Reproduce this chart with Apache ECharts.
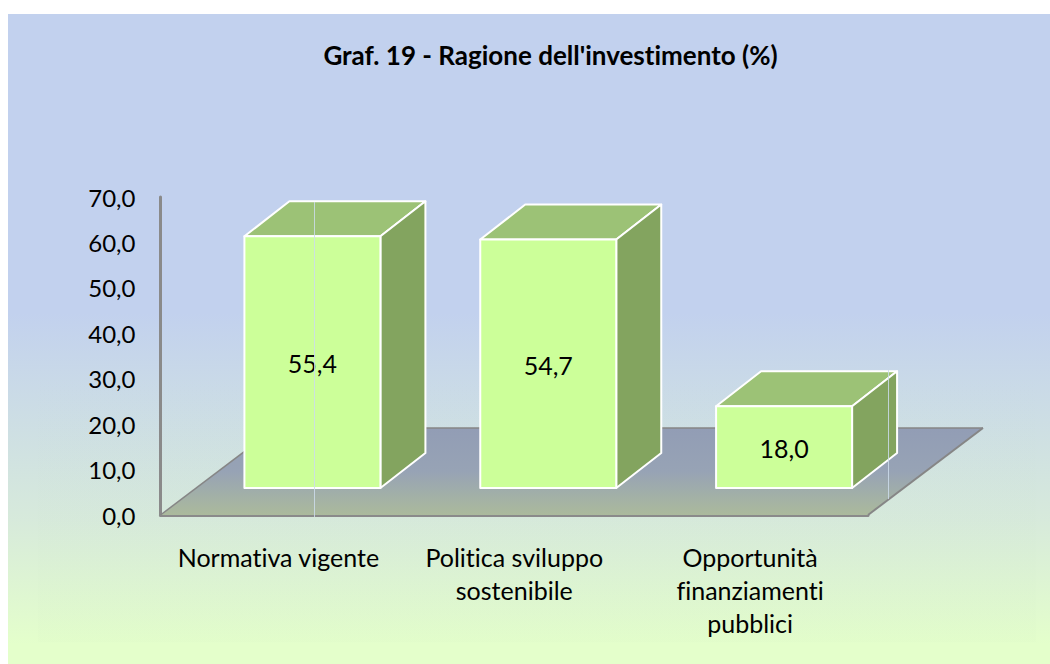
<!DOCTYPE html>
<html><head><meta charset="utf-8">
<style>html,body{margin:0;padding:0;background:#fff}#c{width:1050px;height:664px}
svg text{font-variant-ligatures:none !important;font-feature-settings:"liga" 0,"clig" 0 !important}</style>
<script src="https://cdn.jsdelivr.net/npm/echarts@6/dist/echarts.min.js"></script>
</head><body><div id="c"></div>
<script>
var titleText = "Graf. 19 - Ragione dell'investimento (%)";
var categories = ["Normativa vigente", "Politica sviluppo\nsostenibile", "Opportunità\nfinanziamenti\npubblici"];
var values = [55.4, 54.7, 18.0];
var FONT = "Lato, Carlito, 'Open Sans', sans-serif";
var DEPTH_X = 45, DEPTH_Y = 35, FLOOR_X = 115, FLOOR_Y = 87, BAR_W = 136, BAR_SHIFT_X = 34, BAR_SHIFT_Y = 27;

function fmt(v){ return v.toFixed(1).replace('.', ','); }

var chart = echarts.init(document.getElementById('c'), null, {renderer:'svg'});
chart.setOption({
  animation:false,
  backgroundColor:'#ffffff',
  title:{text:titleText,left:545.5,top:37,textAlign:'center',textStyle:{fontFamily:FONT,fontWeight:'bold',fontSize:26,color:'#000'}},
  graphic:[
    {type:'rect',z:-10,silent:true,shape:{x:8,y:14,width:1042,height:650},
     style:{fill:{type:'linear',x:0,y:0,x2:0,y2:1,colorStops:[
       {offset:0,color:'#C2D1EE'},{offset:0.46,color:'#C2D1EE'},{offset:0.78,color:'#D7EADB'},{offset:0.97,color:'#E4FFCB'},{offset:1,color:'#E4FFCB'}]}}},
    {type:'rect',z:-9,silent:true,shape:{x:38,y:360,width:998,height:282},
     style:{fill:{type:'linear',x:0,y:0,x2:0,y2:1,colorStops:[
       {offset:0,color:'rgba(170,200,170,0)'},{offset:1,color:'rgba(170,200,170,0.03)'}]}}}
  ],
  grid:{left:160.5,right:182,top:197,bottom:149,containLabel:false},
  xAxis:{type:'category',data:categories,
    axisLine:{show:true,lineStyle:{color:'#8A8A8A',width:3}},
    axisTick:{show:false},splitLine:{show:false},
    axisLabel:{interval:0,margin:25,fontFamily:FONT,fontSize:25,lineHeight:33,color:'#000',align:'center',verticalAlign:'top'}},
  yAxis:{type:'value',min:0,max:70,interval:10,
    axisLine:{show:true,lineStyle:{color:'#8A8A8A',width:3}},
    axisTick:{show:false},splitLine:{show:false},
    axisLabel:{margin:25,fontFamily:FONT,fontSize:24,color:'#000',formatter:function(v){return fmt(v);}}},
  series:[
    {type:'custom',coordinateSystem:'cartesian2d',data:[[0,0]],z:1,silent:true,
     renderItem:function(p,api){
       var c=p.coordSys, L=c.x, R=c.x+c.width, B=c.y+c.height;
       var T=B-FLOOR_Y;
       return {type:'group',children:[
         {type:'polygon',shape:{points:[[L,B],[R,B],[R+FLOOR_X,T],[L+FLOOR_X,T]]},
          style:{fill:{type:'linear',x:0,y:0,x2:0,y2:1,colorStops:[
            {offset:0,color:'#929DB5'},{offset:0.5,color:'#97A3B5'},{offset:1,color:'#ABBA9C'}]}}},
         {type:'line',shape:{x1:L+FLOOR_X,y1:T,x2:R+FLOOR_X,y2:T},style:{stroke:'#868686',lineWidth:1.5}},
         {type:'line',shape:{x1:L,y1:B,x2:L+FLOOR_X,y2:T},style:{stroke:'#868686',lineWidth:1.5}},
         {type:'line',shape:{x1:R,y1:B,x2:R+FLOOR_X,y2:T},style:{stroke:'#868686',lineWidth:2}}
       ]};
     }},
    {type:'custom',coordinateSystem:'cartesian2d',z:3,silent:true,
     data:values.map(function(v,i){return [i,v];}),
     encode:{x:0,y:1},
     renderItem:function(p,api){
       var i=api.value(0), v=api.value(1);
       var top=api.coord([i,v]), base=api.coord([i,0]);
       var xl=top[0]+BAR_SHIFT_X-BAR_W/2, xr=xl+BAR_W;
       var yt=top[1]-BAR_SHIFT_Y, yb=base[1]-BAR_SHIFT_Y;
       var st={stroke:'#ffffff',lineWidth:2,lineJoin:'round'};
       return {type:'group',children:[
         {type:'polygon',shape:{points:[[xl,yt],[xl+DEPTH_X,yt-DEPTH_Y],[xr+DEPTH_X,yt-DEPTH_Y],[xr,yt]]},
          style:Object.assign({fill:'#9CC276'},st)},
         {type:'polygon',shape:{points:[[xr,yt],[xr+DEPTH_X,yt-DEPTH_Y],[xr+DEPTH_X,yb-DEPTH_Y],[xr,yb]]},
          style:Object.assign({fill:'#83A45F'},st)},
         {type:'rect',shape:{x:xl,y:yt,width:BAR_W,height:yb-yt},
          style:Object.assign({fill:'#CCFF99'},st)},
         {type:'text',style:{x:(xl+xr)/2,y:(yt+yb)/2+1,text:fmt(v),align:'center',verticalAlign:'middle',
           fontFamily:FONT,fontSize:25,fill:'#000'}}
       ]};
     }},
    {type:'custom',coordinateSystem:'cartesian2d',data:[[0,0]],z:4,silent:true,
     renderItem:function(p,api){
       var c=p.coordSys, B=c.y+c.height;
       var col='rgba(205,220,235,0.85)';
       return {type:'group',children:[
         {type:'line',shape:{x1:c.x+154,y1:c.y+5,x2:c.x+154,y2:B+2},style:{stroke:col,lineWidth:1}},
         {type:'line',shape:{x1:c.x+728,y1:c.y+173,x2:c.x+728,y2:B-16},style:{stroke:col,lineWidth:1}}
       ]};
     }}
  ]
});
</script></body></html>
